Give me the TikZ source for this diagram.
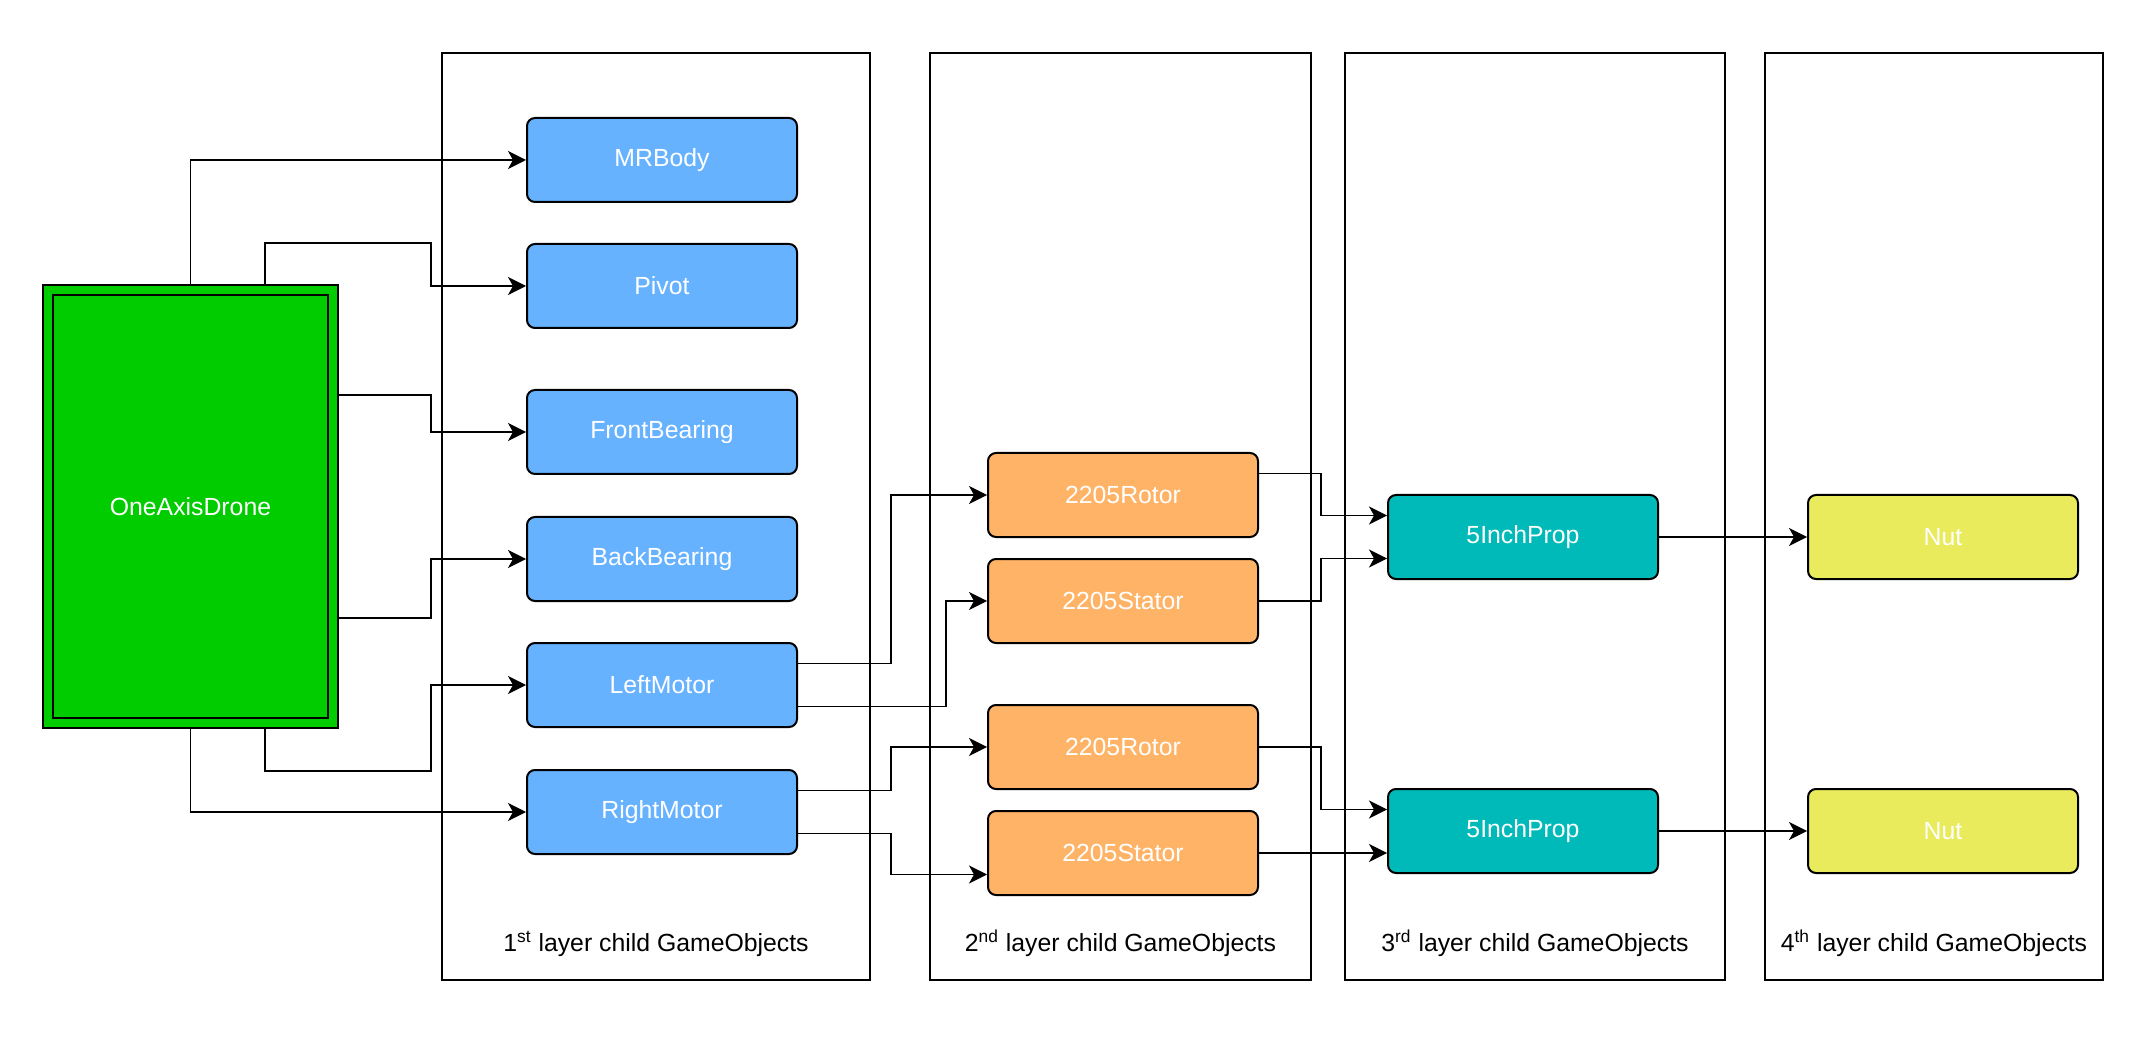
\documentclass[tikz,border=0pt]{standalone}
\usepackage{fontspec}
\setmainfont{Liberation Sans}
\usetikzlibrary{arrows.meta,calc}
\definecolor{dronegreen}{HTML}{00CC00}
\definecolor{kidblue}{HTML}{66B2FF}
\definecolor{kidorange}{HTML}{FFB366}
\definecolor{kidteal}{HTML}{00BABA}
\definecolor{kidyellow}{HTML}{E9EB5D}

\begin{document}
\begin{tikzpicture}[x=0.5pt,y=-0.5pt,
every node/.style={font=\fontsize{12.4}{15}\selectfont},
obj/.style={draw,line width=1pt,rounded corners=4pt,text=white,anchor=north west,
  minimum width=135pt,minimum height=42pt,inner sep=0pt},
lay/.style={draw,line width=0.8pt},
lab/.style={anchor=base,inner sep=0pt},
arr/.style={-{Stealth[length=9pt,width=9pt,inset=2.5pt]},line width=0.9pt}
]
\useasboundingbox (0,0) rectangle (2156,1047);

% layer frames
\foreach \xa/\xb/\ord/\i in {442/870/st/1,930/1311/nd/2,1345/1725/rd/3,1765/2103/th/4}
{
  \draw[lay] (\xa,53) rectangle (\xb,980);
  \path ({(\xa+\xb)/2},951) node[lab] (lab\i) {\i\textsuperscript{\ord} layer child GameObjects};
}

% root
\path (42,284) node[draw,line width=1pt,fill=dronegreen,text=white,anchor=north west,
  inner sep=0pt,minimum width=147.5pt,minimum height=221.5pt] (drone) {OneAxisDrone};
\draw[line width=1pt] ($(drone.north west)+(11,11)$) rectangle ($(drone.south east)+(-11,-11)$);

% 1st layer
\path (526,117) node[obj,fill=kidblue] (mrbody) {MRBody}
      (526,243) node[obj,fill=kidblue] (pivot) {Pivot}
      (526,389) node[obj,fill=kidblue] (front) {FrontBearing}
      (526,516) node[obj,fill=kidblue] (back) {BackBearing}
      (526,642) node[obj,fill=kidblue] (left) {LeftMotor}
      (526,769) node[obj,fill=kidblue] (right) {RightMotor};

% 2nd layer
\path (987,452) node[obj,fill=kidorange] (rotorA) {2205Rotor}
      (987,558) node[obj,fill=kidorange] (statorA) {2205Stator}
      (987,704) node[obj,fill=kidorange] (rotorB) {2205Rotor}
      (987,810) node[obj,fill=kidorange] (statorB) {2205Stator};

% 3rd and 4th layer
\path (1387,494) node[obj,fill=kidteal] (propA) {5InchProp}
      (1387,788) node[obj,fill=kidteal] (propB) {5InchProp}
      (1807,494) node[obj,fill=kidyellow] (nutA) {Nut}
      (1807,788) node[obj,fill=kidyellow] (nutB) {Nut};

\coordinate (j1) at (431,0);
\coordinate (j2) at (891,0);
\coordinate (j3) at (946,0);
\coordinate (j4) at (1321,0);
\coordinate (sb) at ($(statorB.north west)!.75!(statorB.south west)$);
\coordinate (pa1) at ($(propA.north west)!.25!(propA.south west)$);
\coordinate (pa3) at ($(propA.north west)!.75!(propA.south west)$);
\coordinate (pb1) at ($(propB.north west)!.25!(propB.south west)$);

\draw[arr] (drone.north) |- (mrbody.west);
\draw[arr] ($(drone.north west)!.75!(drone.north east)$) -- ++(0,-41) -| (j1 |- pivot.west) -- (pivot.west);
\draw[arr] ($(drone.north east)!.25!(drone.south east)$) -| (j1 |- front.west) -- (front.west);
\draw[arr] ($(drone.north east)!.75!(drone.south east)$) -| (j1 |- back.west) -- (back.west);
\draw[arr] ($(drone.south west)!.75!(drone.south east)$) -- ++(0,42) -| (j1 |- left.west) -- (left.west);
\draw[arr] (drone.south) |- (right.west);

\draw[arr] ($(left.north east)!.25!(left.south east)$) -| (j2 |- rotorA.west) -- (rotorA.west);
\draw[arr] ($(left.north east)!.75!(left.south east)$) -| (j3 |- statorA.west) -- (statorA.west);
\draw[arr] ($(right.north east)!.25!(right.south east)$) -| (j2 |- rotorB.west) -- (rotorB.west);
\draw[arr] ($(right.north east)!.75!(right.south east)$) -| (j2 |- sb) -- (sb);

\draw[arr] ($(rotorA.north east)!.25!(rotorA.south east)$) -| (j4 |- pa1) -- (pa1);
\draw[arr] (statorA.east) -| (j4 |- pa3) -- (pa3);
\draw[arr] (rotorB.east) -| (j4 |- pb1) -- (pb1);
\draw[arr] (statorB.east) -- (statorB.east -| propB.west);

\draw[arr] (propA.east) -- (nutA.west);
\draw[arr] (propB.east) -- (nutB.west);
\end{tikzpicture}
\end{document}
